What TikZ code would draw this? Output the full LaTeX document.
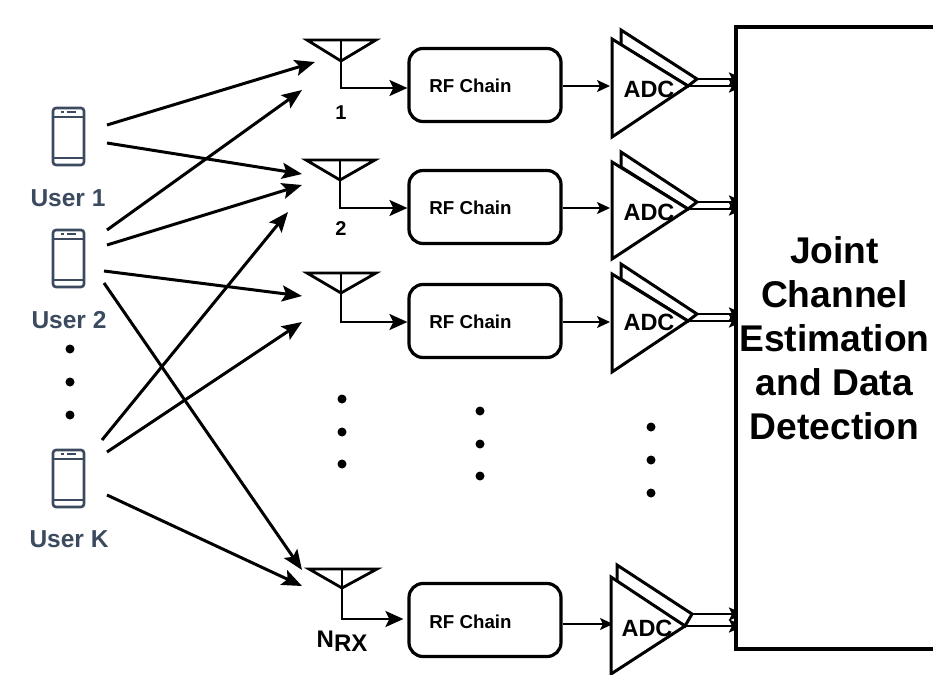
\documentclass[tikz,border=0pt]{standalone}
\usepackage{fontspec}
\setmainfont{Liberation Sans}
\usetikzlibrary{arrows.meta}
\definecolor{usercol}{HTML}{3B4A5F}
\tikzset{
  wire/.style={line width=3pt,-{Stealth[length=20pt,width=16pt,inset=4pt]}},
  feed/.style={line width=2.8pt,-{Stealth[length=18pt,width=16pt,inset=4pt]}},
  thinwire/.style={line width=1.8pt,-{Stealth[length=13pt,width=12pt,inset=3pt]}},
  outwire/.style={line width=2.4pt,-{Stealth[length=15pt,width=13pt,inset=3pt]}},
  antenna/.style={line width=2.8pt,line join=miter},
  rfbox/.style={draw,line width=3.2pt,rounded corners=14pt,minimum width=152pt,minimum height=73pt,inner sep=0pt},
  rftext/.style={inner sep=0pt,font=\fontsize{18.7}{22}\selectfont\bfseries},
  adcshape/.style={draw,line width=3pt,fill=white,line join=miter},
  adctext/.style={inner sep=0pt,font=\fontsize{23.5}{28}\selectfont\bfseries},
  phone/.style={draw=usercol,line width=2.6pt,rounded corners=3pt,minimum width=31pt,minimum height=57pt,inner sep=0pt},
  phoneline/.style={draw=usercol,line width=1.8pt},
  userlabel/.style={text=usercol,inner sep=0pt,font=\fontsize{24.5}{28}\selectfont\bfseries},
  antlabel/.style={inner sep=0pt,font=\fontsize{20}{24}\selectfont\bfseries},
  nrxlabel/.style={inner sep=0pt,font=\fontsize{24}{28}\selectfont\bfseries},
  mainbox/.style={draw,line width=3.2pt,fill=white,minimum width=199pt,minimum height=622pt,inner sep=0pt},
  jointtext/.style={inner sep=0pt,align=center,font=\fontsize{37.2}{44}\selectfont\bfseries},
  dotmark/.style={circle,fill=black,minimum size=9pt,inner sep=0pt},
}
\begin{document}
\begin{tikzpicture}[x=1pt,y=-1pt]
\useasboundingbox (0,0) rectangle (933,674);

% users
\node[phone] (p1) at (68.5,136.5) {};
\node[phone] (p2) at (68.5,258.5) {};
\node[phone] (pk) at (68.5,478.5) {};
\foreach \p in {p1,p2,pk}{
  \draw[phoneline] ([yshift=-10pt]\p.north west) -- ([yshift=-10pt]\p.north east);
  \draw[phoneline] ([yshift=8pt]\p.south west) -- ([yshift=8pt]\p.south east);
  \draw[phoneline,line width=2.2pt] ([xshift=9pt,yshift=-5pt]\p.north west) -- ([xshift=12pt,yshift=-5pt]\p.north west);
  \draw[phoneline,line width=2.2pt] ([xshift=15pt,yshift=-5pt]\p.north west) -- ([xshift=24pt,yshift=-5pt]\p.north west);
}
\node[userlabel] (lu1) at (68,198) {User 1};
\node[userlabel] (lu2) at (69,320) {User 2};
\node[userlabel] (luk) at (69,539) {User K};
\node[dotmark] (du1) at (70,349) {};
\node[dotmark] (du2) at (70,382) {};
\node[dotmark] (du3) at (70,415) {};

% antennas
\coordinate (ant1) at (341,61);
\coordinate (ant2) at (340,180);
\coordinate (ant3) at (341,293);
\coordinate (antn) at (342,588);
\foreach \a/\t/\l/\r in {ant1/40/307/376,ant2/160/306/375,ant3/273/307/376,antn/569/309/377}{
  \draw[antenna] (\l,\t) -- (\r,\t) -- (\a) -- cycle;
  \draw[antenna] (\a |- 0,\t) -- (\a);
}
\node[antlabel] (l1) at (341,113) {1};
\node[antlabel] (l2) at (341,229) {2};
\node[nrxlabel] (ln) at (342,641) {N\raisebox{-4pt}{RX}};

% RF chains
\node[rfbox] (rf1) at (485,85) {};
\node[rfbox] (rf2) at (485,207) {};
\node[rfbox] (rf3) at (485,321) {};
\node[rfbox] (rfn) at (485,620) {};
\node[rftext] (rt1) at (470.5,86) {RF Chain};
\node[rftext] (rt2) at (470.5,208) {RF Chain};
\node[rftext] (rt3) at (470.5,322) {RF Chain};
\node[rftext] (rtn) at (470.5,622) {RF Chain};
\draw[feed] (ant1) |- (rf1.west |- 0,88);
\draw[feed] (ant2) |- (rf2.west |- 0,208);
\draw[feed] (ant3) |- (rf3.west |- 0,322);
\draw[feed] (antn) |- ([xshift=-4pt]rfn.west |- 0,619);

% links users to antennas
\coordinate (a1) at (107,125);  \coordinate (b1) at (315,62);
\coordinate (a2) at (107,143);  \coordinate (b2) at (302,174);
\coordinate (a3) at (107,230);  \coordinate (b3) at (302,90);
\coordinate (a4) at (107,245);  \coordinate (b4) at (302,185);
\coordinate (a5) at (104,271);  \coordinate (b5) at (302,296);
\coordinate (a6) at (104,283);  \coordinate (b6) at (302,570);
\coordinate (a7) at (102,440);  \coordinate (b7) at (288,212);
\coordinate (a8) at (107,452);  \coordinate (b8) at (302,322);
\coordinate (a9) at (107,495);  \coordinate (b9) at (302,586);
\foreach \i in {1,...,9}{\draw[wire] (a\i) -- (b\i);}

% RF to ADC
\draw[thinwire] (rf1.east |- 0,86) -- (610,86);
\draw[thinwire] (rf2.east |- 0,208) -- (610,208);
\draw[thinwire] (rf3.east |- 0,322) -- (610,322);
\draw[thinwire] (rfn.east |- 0,624) -- (613,624);

% ADC outputs
\draw[outwire] (697,79) -- (744,79);
\draw[outwire] (688,86) -- (744,86);
\draw[outwire] (697,202) -- (744,202);
\draw[outwire] (688,209) -- (744,209);
\draw[outwire] (697,314) -- (744,314);
\draw[outwire] (688,321) -- (744,321);
\draw[outwire] (692,614) -- (744,614);
\draw[outwire] (685,626) -- (744,626);

% ADCs
\draw[adcshape] (621,30) -- (697,79) -- (688,86) -- (621,45) -- cycle;
\draw[adcshape] (612,39) -- (688,86) -- (612,137) -- cycle;
\draw[adcshape] (621,152) -- (697,202) -- (688,209) -- (621,167) -- cycle;
\draw[adcshape] (612,162) -- (688,209) -- (612,259) -- cycle;
\draw[adcshape] (621,264) -- (697,314) -- (688,321) -- (621,279) -- cycle;
\draw[adcshape] (612,274) -- (688,321) -- (612,372) -- cycle;
\draw[adcshape] (617,565) -- (692,614) -- (685,626) -- (617,585) -- cycle;
\draw[adcshape] (611,577) -- (685,626) -- (611,674) -- cycle;
\node[adctext] (ad1) at (649,89) {ADC};
\node[adctext] (ad2) at (649,212) {ADC};
\node[adctext] (ad3) at (649,322) {ADC};
\node[adctext] (adn) at (647,628) {ADC};

% dots
\foreach \x/\a/\b/\c in {342/399/432/464,480/411/444/476,651/427/460/493}{
  \node[dotmark] (dt\x a) at (\x,\a) {};
  \node[dotmark] (dt\x b) at (\x,\b) {};
  \node[dotmark] (dt\x c) at (\x,\c) {};
}

% main block
\node[mainbox] (jc) at (835.5,338) {};
\node[jointtext] (jt) at (834.5,338) {Joint\\Channel\\Estimation\\and Data\\Detection};
\end{tikzpicture}
\end{document}
